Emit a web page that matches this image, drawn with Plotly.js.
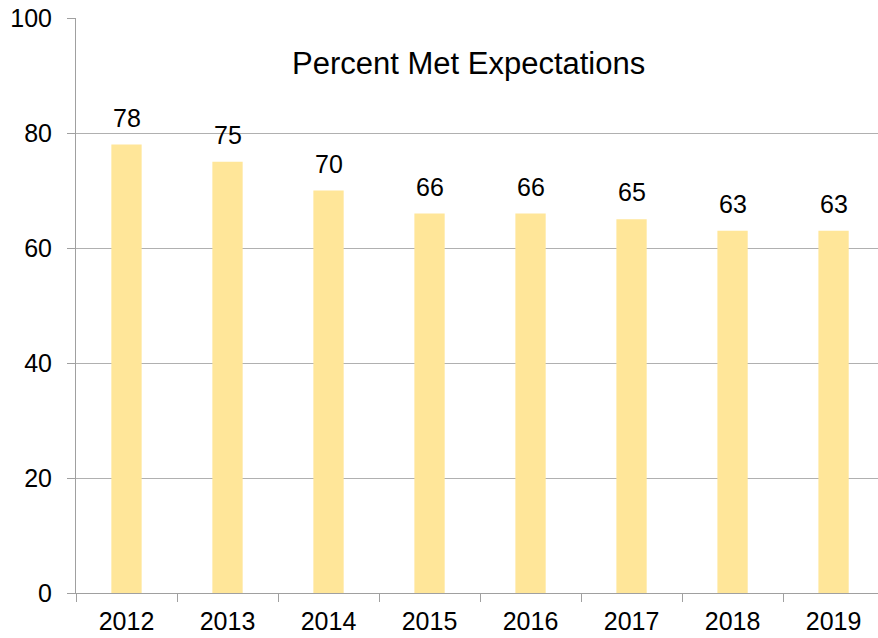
<!DOCTYPE html>
<html>
<head>
<meta charset="utf-8">
<script src="https://cdn.plot.ly/plotly-3.0.1.min.js"></script>
<style>html,body{margin:0;padding:0;background:#fff;}#chart{width:878px;height:638px;}</style>
</head>
<body>
<div id="chart"></div>
<script>
const years = ["2012","2013","2014","2015","2016","2017","2018","2019"];
const percentMet = [78, 75, 70, 66, 66, 65, 63, 63];
const chartTitle = "Percent Met Expectations";

const FONT = "Liberation Sans, Arial, sans-serif";

const trace = {
  type: "bar",
  x: years,
  y: percentMet,
  width: 0.3,
  marker: {color: "#FFE699"},
  hoverinfo: "none"
};

const valueLabels = percentMet.map((v, i) => ({
  x: i, y: v, xref: "x", yref: "y",
  text: String(v), showarrow: false,
  xanchor: "center", yanchor: "bottom", yshift: 11,
  font: {family: FONT, size: 25, color: "#000"}
}));

const layout = {
  width: 878, height: 638,
  margin: {l: 76, r: 0, t: 18, b: 45},
  paper_bgcolor: "#fff", plot_bgcolor: "#fff",
  font: {family: FONT, size: 25, color: "#000"},
  showlegend: false,
  xaxis: {
    type: "category",
    range: [-0.5, 7.44],
    showline: true, linecolor: "#a0a0a0", linewidth: 1,
    ticks: "outside", ticklen: 8, tickcolor: "#a0a0a0",
    tickson: "boundaries",
    ticklabelstandoff: 6,
    showgrid: false, zeroline: false,
    tickfont: {size: 25}
  },
  yaxis: {
    range: [0, 100], dtick: 20,
    showline: true, linecolor: "#a0a0a0", linewidth: 1,
    ticks: "outside", ticklen: 8, tickcolor: "#a0a0a0",
    ticklabelstandoff: 10,
    showgrid: true, gridcolor: "#b0b0b0", gridwidth: 1,
    zeroline: false,
    tickfont: {size: 25}
  },
  annotations: [{
    text: chartTitle, xref: "paper", yref: "paper",
    x: 0.489, y: 0.92, xanchor: "center", yanchor: "middle",
    showarrow: false, font: {family: FONT, size: 31, color: "#000"}
  }].concat(valueLabels)
};

Plotly.newPlot("chart", [trace], layout, {displayModeBar: false, staticPlot: true});
</script>
</body>
</html>
